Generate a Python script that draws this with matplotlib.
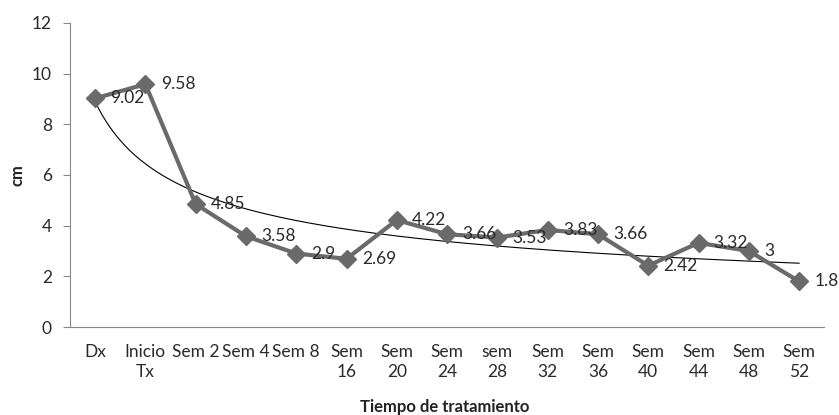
import numpy as np
import matplotlib.pyplot as plt

plt.rcParams['font.family'] = ['Lato', 'DejaVu Sans']

categorias = ["Dx", "Inicio\nTx", "Sem 2", "Sem 4", "Sem 8", "Sem\n16", "Sem\n20", "Sem\n24",
              "sem\n28", "Sem\n32", "Sem\n36", "Sem\n40", "Sem\n44", "Sem\n48", "Sem\n52"]
valores = [9.02, 9.58, 4.85, 3.58, 2.9, 2.69, 4.22, 3.66, 3.53, 3.83, 3.66, 2.42, 3.32, 3, 1.8]
etiquetas = ["9.02", "9.58", "4.85", "3.58", "2.9", "2.69", "4.22", "3.66", "3.53", "3.83",
             "3.66", "2.42", "3.32", "3", "1.8"]
y_ticks = [0, 2, 4, 6, 8, 10, 12]

fig = plt.figure(figsize=(8.39, 4.15), dpi=100)
ax = fig.add_axes([0.0834, 0.212, 0.899, 0.733])

x = np.arange(len(valores))
gris = "#6a6a6a"
ax.plot(x, valores, color=gris, lw=3, marker="D", ms=9.5, zorder=3)

# linea de tendencia potencial (como en Excel)
xl = np.arange(1, len(valores) + 1)
k, lc = np.polyfit(np.log(xl), np.log(valores), 1)
xs = np.linspace(1, len(valores), 200)
ax.plot(xs - 1, np.exp(lc) * xs ** k, color="black", lw=0.8, zorder=2)

for i, (v, t) in enumerate(zip(valores, etiquetas)):
    ax.annotate(t, (i, v), xytext=(11, 0), textcoords="offset points",
                ha="left", va="center", fontsize=12.5, color="#2a2a2a", zorder=4)

ax.set_xlim(-0.5, len(valores) - 0.5)
ax.set_ylim(0, 12)
ax.set_yticks(y_ticks)
ax.set_xticks(x)
ax.set_xticklabels(categorias, fontsize=12.5, color="#2a2a2a", linespacing=1.35)
ax.tick_params(axis="x", length=0, pad=12)
ax.tick_params(axis="y", labelsize=12.5, colors="#2a2a2a", length=5, color="#888888", pad=8)

for s in ["top", "right"]:
    ax.spines[s].set_visible(False)
ax.spines["left"].set_color("#888888")
ax.spines["bottom"].set_color("#888888")

fig.text(0.0203, 0.578, "cm", rotation=90, ha="center", va="center",
         fontsize=12, fontweight="bold", color="#222222")
fig.text(0.53, 0.019, "Tiempo de tratamiento", ha="center", va="center",
         fontsize=12, fontweight="bold", color="#222222")

fig.savefig("out.png", dpi=100)
